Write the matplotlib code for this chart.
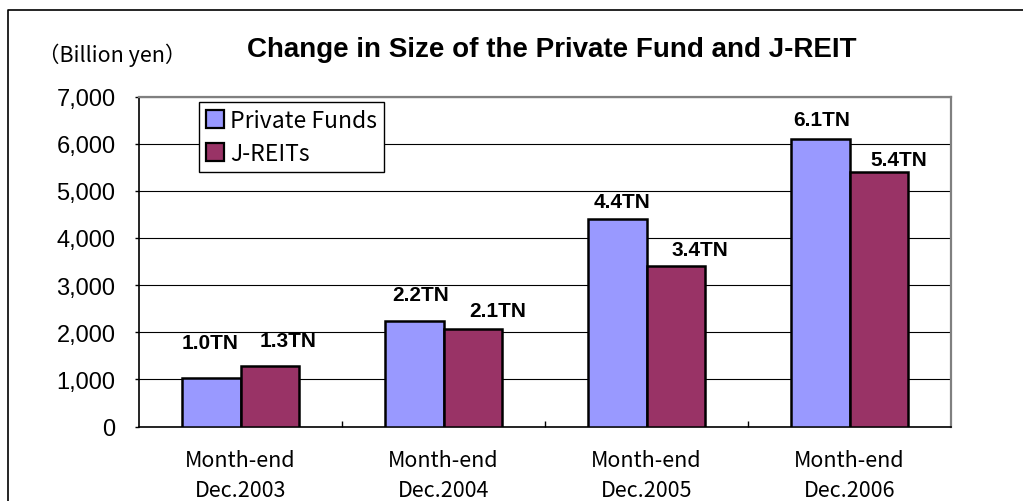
import matplotlib
matplotlib.use("Agg")
import matplotlib.pyplot as plt
from matplotlib.lines import Line2D
from matplotlib.ticker import FuncFormatter, FixedLocator
import numpy as np

categories = ["Month-end\nDec.2003", "Month-end\nDec.2004", "Month-end\nDec.2005", "Month-end\nDec.2006"]
private_funds = [1020, 2230, 4400, 6100]
j_reits = [1280, 2070, 3400, 5400]
private_labels = ["1.0TN", "2.2TN", "4.4TN", "6.1TN"]
jreit_labels = ["1.3TN", "2.1TN", "3.4TN", "5.4TN"]
series_names = ["Private Funds", "J-REITs"]
title = "Change in Size of the Private Fund and J-REIT"
unit_label = "（Billion yen）"

# label offsets in pixels (dx, dy above bar top)
private_off = [(-1, 36), (6, 27), (5, 18), (1, 19)]
jreit_off = [(19, 26), (25, 18), (24, 17), (20, 12)]

W, H = 1023, 502
fig = plt.figure(figsize=(W / 100, H / 100), dpi=100)
jp = ["Noto Sans CJK JP", "DejaVu Sans"]
ar = ["Liberation Sans", "DejaVu Sans"]

# outer frame (left and top visible)
fig.add_artist(Line2D([8 / W, 8 / W, 1.01], [-0.01, 1 - 11 / H, 1 - 11 / H],
                      transform=fig.transFigure, color="black", lw=1.2))

L, R, T, B = 139, 951, 97.5, 427.5
ax = fig.add_axes([L / W, 1 - B / H, (R - L) / W, (B - T) / H])

x = np.arange(len(categories))
w = 0.286
PC, JC = "#9999FF", "#993366"
b1 = ax.bar(x - w / 2, private_funds, w, color=PC, edgecolor="black", lw=1.8, zorder=3, label=series_names[0])
b2 = ax.bar(x + w / 2, j_reits, w, color=JC, edgecolor="black", lw=1.8, zorder=3, label=series_names[1])

ax.set_xlim(-0.5, len(categories) - 0.5)
ax.set_ylim(0, 7000)
ax.set_yticks(np.arange(0, 7001, 1000))
ax.yaxis.set_major_formatter(FuncFormatter(lambda v, p: f"{int(v):,}"))
ax.grid(axis="y", color="black", lw=0.8, zorder=0)
ax.tick_params(axis="y", direction="out", length=3, width=1, pad=14, labelsize=17)
for t in ax.get_yticklabels():
    t.set_fontfamily(ar)

ax.set_xticks(x)
ax.set_xticklabels(categories, fontfamily=jp, fontsize=15.5, linespacing=1.45)
ax.tick_params(axis="x", which="major", length=0, pad=16.5)
ax.xaxis.set_minor_locator(FixedLocator(x[:-1] + 0.5))
ax.tick_params(axis="x", which="minor", direction="in", length=4, width=1)

for s in ["left", "bottom"]:
    ax.spines[s].set_color("black")
    ax.spines[s].set_linewidth(1.2)
for s in ["top", "right"]:
    ax.spines[s].set_color("#808080")
    ax.spines[s].set_linewidth(1.6)

for i in range(len(categories)):
    dx, dy = private_off[i]
    ax.annotate(private_labels[i], (x[i] - w / 2, private_funds[i]), xytext=(dx * 0.72, dy * 0.72),
                textcoords="offset points", ha="center", va="center", fontsize=15,
                fontweight="bold", fontfamily=ar, zorder=5)
    dx, dy = jreit_off[i]
    ax.annotate(jreit_labels[i], (x[i] + w / 2, j_reits[i]), xytext=(dx * 0.72, dy * 0.72),
                textcoords="offset points", ha="center", va="center", fontsize=15,
                fontweight="bold", fontfamily=ar, zorder=5)

leg = ax.legend(loc="upper left", bbox_to_anchor=((199 - L) / (R - L), 1 - (103 - T) / (B - T)),
                frameon=True, fancybox=False, edgecolor="black", framealpha=1,
                prop={"family": jp, "size": 16.5}, handlelength=0.8, handleheight=0.8,
                handletextpad=0.25, borderpad=0.3, labelspacing=0.45, borderaxespad=0)
leg.get_frame().set_linewidth(1.0)
leg.set_zorder(6)
for hnd in leg.legend_handles:
    hnd.set_linewidth(1.6)

fig.text(552 / W, 1 - 50 / H, title, ha="center", va="center", fontsize=20,
         fontweight="bold", fontfamily=ar)
fig.text(112 / W, 1 - 55 / H, unit_label, ha="center", va="center", fontsize=15.5, fontfamily=jp)

fig.savefig("out.png", dpi=100)
